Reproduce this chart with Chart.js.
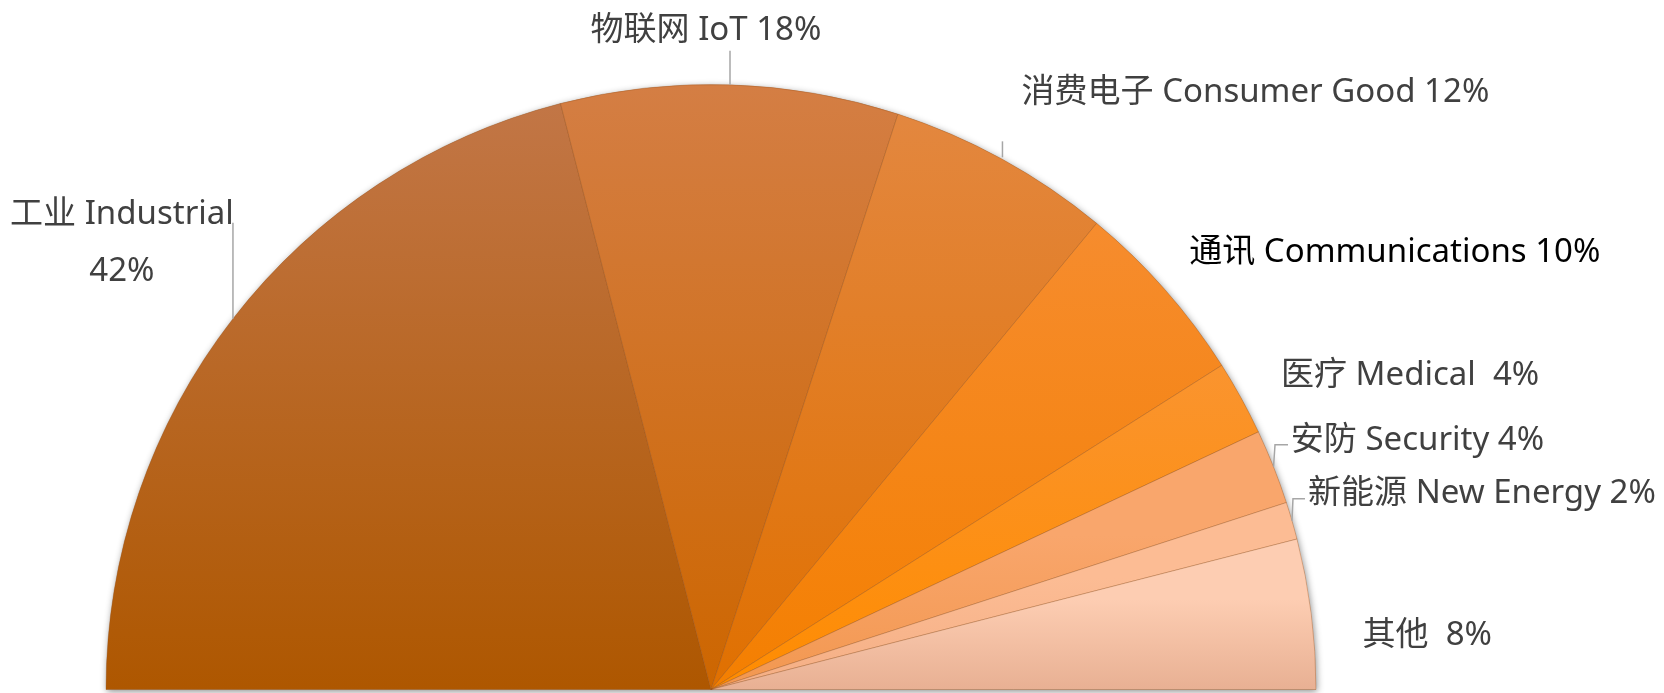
<!DOCTYPE html>
<html>
<head>
<meta charset="utf-8">
<script src="https://cdn.jsdelivr.net/npm/chart.js@4"></script>
<style>
  html, body { margin: 0; padding: 0; background: #fff; }
  .chart-container { position: relative; width: 1664px; height: 693px; }
</style>
</head>
<body>
<div class="chart-container">
  <canvas id="marketChart"></canvas>
</div>
<script>
// segment data
const categories = ["工业 Industrial", "物联网 IoT", "消费电子 Consumer Good", "通讯 Communications",
  "医疗 Medical", "安防 Security", "新能源 New Energy", "其他"];
const shares = [42, 18, 12, 10, 4, 4, 2, 8];

// colours: top / bottom of each slice's vertical gradient
const topColors = ["#c27646", "#d47e44", "#e3873f", "#f68c2e", "#fa942f", "#f9a66c", "#fcbc94", "#fdcdb2"];
const bottomColors = ["#ae5700", "#cd6600", "#e07000", "#f47f00", "#ff8c00", "#f2974f", "#f4ae84", "#e8b093"];

// label layout, offsets from the slice's outer mid point
const labelSep = ["\n", " ", " ", " ", "  ", " ", " ", "  "];
const labelOffsets = [[-111, -76], [-24, -54], [253, -67], [230, -37], [169, -22], [144, -26], [190, -27], [116, 22]];
const labelColors = ["#404040", "#404040", "#404040", "#000000", "#404040", "#404040", "#404040", "#404040"];
const leaders = [
  [[0, 0], [0, -96]],
  [[0, 0], [0, -34]],
  [[0, -2], [0, -18]],
  null,
  null,
  [[0, 0], [1.5, -22], [14.5, -22]],
  [[0, 0], [1, -22], [13, -22]],
  null,
];

const total = shares.reduce((a, b) => a + b, 0);

function sliceGradient(ctx) {
  const chart = ctx.chart;
  const area = chart.chartArea;
  const i = ctx.dataIndex;
  if (!area || i === undefined) return bottomColors[i || 0];
  const before = shares.slice(0, i).reduce((a, b) => a + b, 0);
  const f1 = before / total;
  const f2 = (before + shares[i]) / total;
  let h = Math.max(Math.sin(f1 * Math.PI), Math.sin(f2 * Math.PI));
  if (f1 <= 0.5 && f2 >= 0.5) h = 1;
  const start = Math.min(1 - h, 0.99);
  const g = chart.ctx.createLinearGradient(0, area.top, 0, area.bottom);
  g.addColorStop(start, topColors[i]);
  // small slices keep their light tone a bit longer
  if (h < 0.5) g.addColorStop(start + (1 - start) * 0.4, topColors[i]);
  g.addColorStop(1, bottomColors[i]);
  return g;
}

const shadowPlugin = {
  id: "halfShadow",
  beforeDatasetsDraw(chart) {
    const arc = chart.getDatasetMeta(0).data[0];
    if (!arc) return;
    const { x, y, outerRadius } = arc.getProps(["x", "y", "outerRadius"], true);
    const ctx = chart.ctx;
    ctx.save();
    ctx.shadowColor = "rgba(0,0,0,0.45)";
    ctx.shadowBlur = 7;
    ctx.shadowOffsetX = 1;
    ctx.shadowOffsetY = 2;
    ctx.fillStyle = "#b0a090";
    ctx.beginPath();
    ctx.moveTo(x - outerRadius, y);
    ctx.arc(x, y, outerRadius, Math.PI, 2 * Math.PI);
    ctx.closePath();
    ctx.fill();
    ctx.restore();
  },
};

const labelPlugin = {
  id: "sliceLabels",
  afterDatasetsDraw(chart) {
    const ctx = chart.ctx;
    const arcs = chart.getDatasetMeta(0).data;
    ctx.save();
    ctx.font = '33px "Noto Sans", "Noto Sans CJK SC", sans-serif';
    ctx.textAlign = "center";
    ctx.textBaseline = "middle";
    arcs.forEach((arc, i) => {
      const { x, y, startAngle, endAngle, outerRadius } =
        arc.getProps(["x", "y", "startAngle", "endAngle", "outerRadius"], true);
      const mid = (startAngle + endAngle) / 2;
      const ax = x + Math.cos(mid) * outerRadius;
      const ay = y + Math.sin(mid) * outerRadius;

      if (leaders[i]) {
        ctx.strokeStyle = "#a6a6a6";
        ctx.lineWidth = 1.5;
        ctx.beginPath();
        leaders[i].forEach(([dx, dy], k) => {
          if (k === 0) ctx.moveTo(ax + dx, ay + dy);
          else ctx.lineTo(ax + dx, ay + dy);
        });
        ctx.stroke();
      }

      const text = categories[i] + labelSep[i] + shares[i] + "%";
      const lines = text.split("\n");
      const lh = 57;
      const cx = ax + labelOffsets[i][0];
      const cy = ay + labelOffsets[i][1];
      ctx.fillStyle = labelColors[i];
      lines.forEach((line, k) => {
        ctx.fillText(line, cx, cy + (k - (lines.length - 1) / 2) * lh);
      });
    });
    ctx.restore();
  },
};

new Chart(document.getElementById("marketChart"), {
  type: "pie",
  data: {
    labels: categories,
    datasets: [
      {
        data: shares,
        backgroundColor: sliceGradient,
        borderColor: "rgba(150,75,20,0.3)",
        borderWidth: 1,
        hoverOffset: 0,
        offset: 0,
      },
    ],
  },
  options: {
    responsive: true,
    maintainAspectRatio: false,
    animation: false,
    rotation: -90,
    circumference: 180,
    layout: { padding: { top: 84, bottom: 3, left: 20, right: 262 } },
    plugins: {
      legend: { display: false },
      tooltip: { enabled: false },
    },
  },
  plugins: [shadowPlugin, labelPlugin],
});
</script>
</body>
</html>
